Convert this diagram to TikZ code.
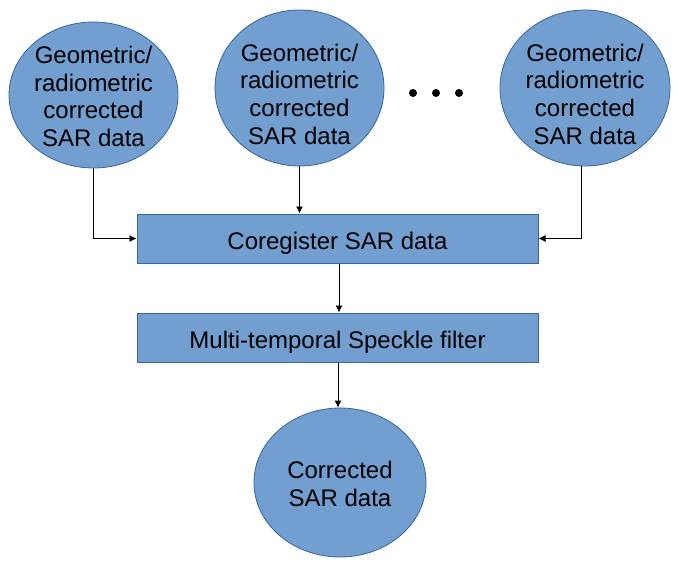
\documentclass[tikz,border=0pt]{standalone}
\usepackage{fontspec}
\setmainfont{Liberation Sans}
\usetikzlibrary{shapes.geometric,arrows.meta}
\definecolor{fillblue}{HTML}{729FCF}
\definecolor{edgeblue}{HTML}{3465A4}
\begin{document}
\begin{tikzpicture}[x=1pt,y=-1pt,
  every node/.style={font=\fontsize{24}{27.7}\selectfont},
  ell/.style={ellipse,draw=edgeblue,fill=fillblue,line width=0.8pt,inner sep=0pt},
  boxn/.style={rectangle,draw=edgeblue,fill=fillblue,line width=1pt,minimum width=401pt,minimum height=49pt,inner sep=0pt},
  txt/.style={align=center,inner sep=0pt},
  conn/.style={line width=0.9pt,-{Latex[length=7pt,width=7pt]}}]
\useasboundingbox (0,0) rectangle (679,564);
\node[ell,minimum width=169pt,minimum height=146pt] (e1) at (93.5,95) {};
\node[ell,minimum width=169pt,minimum height=156pt] (e2) at (299.5,88) {};
\node[ell,minimum width=170pt,minimum height=156pt] (e3) at (585,88) {};
\node[txt] (t1) at ([yshift=-1.5pt]e1.center) {Geometric/\\radiometric\\corrected\\SAR data};
\node[txt] (t2) at ([yshift=-6pt]e2.center) {Geometric/\\radiometric\\corrected\\SAR data};
\node[txt] (t3) at ([yshift=-6pt]e3.center) {Geometric/\\radiometric\\corrected\\SAR data};
\node[boxn] (b1) at (337.5,238.5) {};
\node[boxn] (b2) at (337.5,337.5) {};
\node[txt] (tb1) at ([yshift=-5pt]b1.center) {Coregister SAR data};
\node[txt] (tb2) at ([yshift=-5pt]b2.center) {Multi-temporal Speckle filter};
\node[ell,minimum width=172pt,minimum height=149pt] (e4) at (340,482.5) {};
\node[txt] (t4) at ([yshift=-1.5pt]e4.center) {Corrected\\SAR data};
\fill (413,93) circle (4) coordinate (d1);
\fill (436,93) circle (4) coordinate (d2);
\fill (459,93) circle (4) coordinate (d3);
\draw[conn] (e1.south) |- (b1.west);
\draw[conn] (e2.south) -- (e2.south |- b1.north);
\draw[conn] (e3.south -| 581,0) |- (b1.east);
\draw[conn] (b1.south -| 339,0) -- (b2.north -| 339,0);
\draw[conn] (b2.south -| 338,0) -- (e4.north -| 338,0);
\end{tikzpicture}
\end{document}
